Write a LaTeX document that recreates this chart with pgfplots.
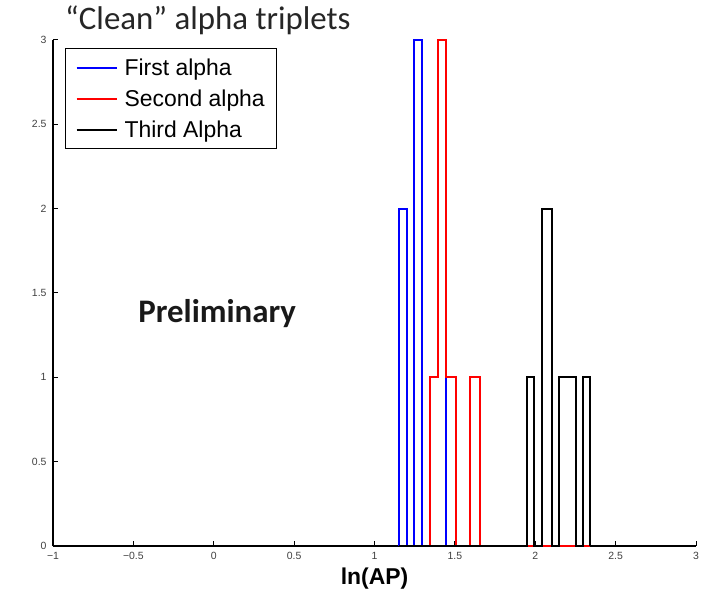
\documentclass[border=0pt]{standalone}
\usepackage{fontspec}
\usepackage{pgfplots}
\pgfplotsset{compat=1.18}
\setmainfont{Liberation Sans}
\newfontfamily\calibri{Carlito}

\begin{document}
\begin{tikzpicture}
\begin{axis}[
  at={(0,0)}, anchor=south west,
  scale only axis,
  width=643bp, height=506bp,
  xmin=-1, xmax=3, ymin=0, ymax=3,
  axis lines*=left,
  axis line style={line width=1.3bp},
  tick align=inside,
  major tick length=5bp,
  tick style={line width=1bp, black},
  xtick={-1,-0.5,0,0.5,1,1.5,2,2.5,3},
  xticklabels={−1,−0.5,0,0.5,1,1.5,2,2.5,3},
  ytick={0,0.5,1,1.5,2,2.5,3},
  yticklabels={0,0.5,1,1.5,2,2.5,3},
  ticklabel style={font=\fontsize{10.5}{10.5}\selectfont, text=black!75},
  xticklabel style={yshift=-3bp},
  yticklabel style={xshift=-3bp},
  xlabel={\bfseries ln(AP)},
  xlabel style={font=\fontsize{23}{23}\selectfont, at={(axis description cs:0.5,0)}, anchor=base, yshift=-38bp},
  legend style={
    at={(axis description cs:0.0187,0.984)}, anchor=north west,
    draw=black, line width=1.2bp, fill=white,
    inner xsep=10bp, inner ysep=6.5bp,
    row sep=6bp, column sep=5bp,
    font=\fontsize{23}{23}\selectfont,
    nodes={text height=18bp, text depth=3bp, inner sep=2bp},
    cells={anchor=west},
  },
  legend image code/.code={\draw[mark repeat=2, mark phase=2, #1] plot coordinates {(0bp,0bp) (20bp,0bp) (40bp,0bp)};},
  legend image post style={line width=2bp},
  clip=false,
]
% histogram outlines, bins drawn as closed steps on the baseline
\addplot[draw=blue, line width=2.2bp] coordinates {
  (1.154,0) (1.154,2) (1.200,2) (1.200,0)
  (1.246,0) (1.246,3) (1.294,3) (1.294,0)
  (1.445,0) (1.445,1) (1.505,1) (1.505,0)
  (2.341,0)
};
\addlegendentry{First alpha}
\addplot[draw=red, line width=2.2bp] coordinates {
  (1.154,0)
  (1.347,0) (1.347,1) (1.397,1) (1.397,3) (1.445,3) (1.445,1) (1.505,1) (1.505,0)
  (1.592,0) (1.592,1) (1.654,1) (1.654,0)
  (2.341,0)
};
\addlegendentry{Second alpha}
\addplot[draw=black, line width=2.2bp] coordinates {
  (1.154,0)
  (1.951,0) (1.951,1) (1.994,1) (1.994,0)
  (2.040,0) (2.040,2) (2.102,2) (2.102,0)
  (2.146,0) (2.146,1) (2.254,1) (2.254,0)
  (2.295,0) (2.295,1) (2.341,1) (2.341,0)
};
\addlegendentry{Third Alpha}
\node[anchor=base west, inner sep=0pt, font=\calibri\fontsize{33}{33}\selectfont, text=black!85]
  at (axis description cs:0.0187,1.0) [yshift=10bp] {“Clean” alpha triplets};
\node[anchor=west, inner sep=0pt, font=\calibri\bfseries\fontsize{33}{33}\selectfont, text=black!90]
  at (axis cs:-0.47,1.38) {Preliminary};
\end{axis}
\pgfresetboundingbox
\path (-53bp,-45bp) rectangle (655bp,546bp);
\end{tikzpicture}
\end{document}
